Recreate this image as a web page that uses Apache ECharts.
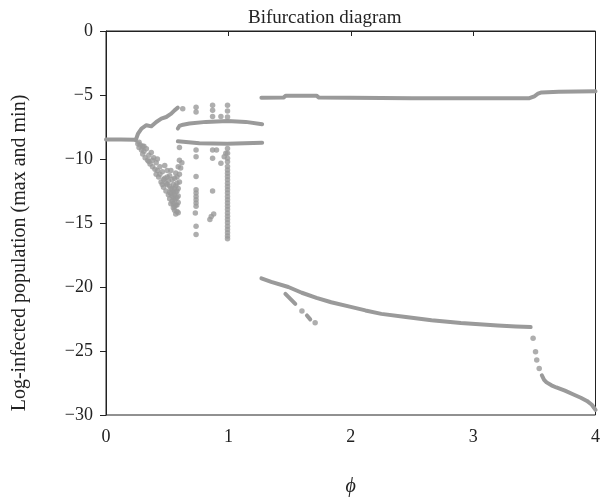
<!DOCTYPE html>
<html>
<head>
<meta charset="utf-8">
<script src="https://cdn.jsdelivr.net/npm/echarts@6/dist/echarts.min.js"></script>
<style>
html, body { margin: 0; padding: 0; background: #fff; }
#chart { width: 603px; height: 502px; }
</style>
</head>
<body>
<div id="chart"></div>
<script>
// axis ticks
const xTicks = [0, 1, 2, 3, 4];
const yTickLabels = ['−30', '−25', '−20', '−15', '−10', '−5', '0'];

// continuous branches, [phi, log-infected]
const stableBranch = [[0, -8.48], [0.12, -8.48], [0.24, -8.5]];
const earlyUpper = [[0.243, -8.53], [0.262, -8.01], [0.29, -7.62], [0.33, -7.36], [0.371, -7.45],
	[0.411, -7.11], [0.452, -6.85], [0.492, -6.72], [0.533, -6.46], [0.56, -6.2], [0.587, -5.99]];
const midUpper = [[0.587, -7.62], [0.6, -7.42], [0.63, -7.32], [0.682, -7.23], [0.817, -7.1], [0.993, -7.03],
	[1.142, -7.1], [1.276, -7.29]];
const midLower = [[0.587, -8.62], [0.763, -8.77], [0.99, -8.8], [1.276, -8.73]];
const maxBranch = [[1.27, -5.22], [1.45, -5.2], [1.47, -5.05], [1.72, -5.05], [1.74, -5.2],
	[2.5, -5.25], [3.46, -5.25], [3.5, -5.1], [3.53, -4.9], [3.56, -4.8], [3.7, -4.75], [4, -4.7]];
const minBranch = [[1.27, -19.33], [1.35, -19.6], [1.49, -20.0], [1.6, -20.45], [1.72, -20.85],
	[1.84, -21.19], [2.0, -21.55], [2.12, -21.83], [2.25, -22.1], [2.45, -22.35], [2.66, -22.6],
	[2.9, -22.82], [3.2, -23.0], [3.35, -23.08], [3.47, -23.13]];
const minTail = [[3.562, -26.9], [3.58, -27.25], [3.6, -27.45], [3.64, -27.68], [3.68, -27.85],
	[3.75, -28.1], [3.82, -28.4], [3.88, -28.65], [3.93, -28.9], [3.97, -29.2], [4.0, -29.6]];
const sideDash1 = [[1.466, -20.54], [1.547, -21.32]];
const sideDash2 = [[1.642, -22.22], [1.669, -22.53]];

// scattered extrema
const chaosDots = [
	[0.26, -8.8], [0.27, -9.1], [0.28, -8.9], [0.29, -9.3], [0.30, -9.0], [0.30, -9.6], [0.31, -9.4],
	[0.32, -9.9], [0.33, -9.2], [0.34, -10.1], [0.35, -9.7], [0.36, -10.4], [0.37, -9.5], [0.38, -10.6],
	[0.39, -9.9], [0.40, -10.8], [0.41, -10.3], [0.41, -11.2], [0.42, -10.0], [0.43, -11.4], [0.44, -10.6],
	[0.45, -11.8], [0.46, -11.0], [0.47, -12.2], [0.48, -10.5], [0.48, -11.5], [0.49, -12.5], [0.50, -10.9],
	[0.50, -12.0], [0.51, -12.8], [0.52, -11.3], [0.52, -13.1], [0.53, -12.3], [0.53, -13.5], [0.54, -11.6],
	[0.54, -12.9], [0.55, -13.8], [0.55, -12.0], [0.56, -11.5], [0.56, -13.2], [0.56, -14.0], [0.57, -12.6],
	[0.57, -13.6], [0.57, -14.3], [0.58, -11.9], [0.58, -13.0], [0.58, -14.1], [0.59, -12.3], [0.59, -13.4],
	[0.60, -11.2], [0.61, -10.7], [0.62, -10.3], [0.60, -10.1], [0.59, -10.6], [0.51, -11.7], [0.53, -10.9],
	[0.55, -12.6], [0.57, -11.1], [0.6, -9.1],
	[0.52, -12.1], [0.53, -12.7], [0.54, -13.3], [0.55, -13.0], [0.55, -13.5], [0.56, -12.3], [0.56, -12.8],
	[0.57, -12.1], [0.57, -13.1], [0.58, -12.5], [0.58, -13.6], [0.59, -12.9], [0.59, -14.2], [0.56, -13.7],
	[0.54, -12.4], [0.52, -12.6], [0.50, -11.4], [0.49, -11.9], [0.47, -11.6], [0.46, -12.0], [0.44, -11.2],
	[0.42, -10.9], [0.38, -10.1], [0.35, -10.2], [0.31, -9.0], [0.27, -8.7], [0.58, -11.4], [0.6, -11.8]
];
const topDots = [[0.627, -6.07], [0.736, -5.95], [0.736, -6.33], [0.871, -5.81], [0.871, -6.2],
	[0.993, -5.81], [0.993, -6.25], [0.993, -6.72], [0.939, -6.67], [0.871, -6.67]];
const columnDots = [
	[0.736, -9.3], [0.736, -9.82], [0.736, -11.37], [0.736, -12.4], [0.736, -12.66], [0.736, -12.92],
	[0.736, -13.18], [0.736, -13.44], [0.736, -13.7], [0.73, -14.21], [0.736, -15.25], [0.736, -15.89],
	[0.871, -9.3], [0.871, -9.95], [0.871, -12.5], [0.88, -14.3], [0.849, -14.73], [0.86, -14.5],
	[0.903, -9.3], [0.939, -10.34], [0.966, -9.82], [0.979, -9.56],
	[0.993, -9.17], [0.993, -9.56], [0.993, -9.95], [0.993, -10.21], [0.993, -10.59], [0.993, -10.85],
	[0.993, -11.11], [0.993, -11.37], [0.993, -11.63], [0.993, -11.89], [0.993, -12.14], [0.993, -12.4],
	[0.993, -12.66], [0.993, -12.92], [0.993, -13.18], [0.993, -13.44], [0.993, -13.7], [0.993, -13.95],
	[0.993, -14.21], [0.993, -14.47], [0.993, -14.73], [0.993, -14.99], [0.993, -15.25], [0.993, -15.5],
	[0.993, -15.76], [0.993, -16.02], [0.993, -16.23]
];
const sideDots = [[1.601, -21.88], [1.709, -22.79]];
const dropDots = [[3.49, -24.0], [3.51, -25.06], [3.52, -25.7], [3.54, -26.36]];

const grey = '#9a9a9a';
const serif = '"Liberation Serif", "DejaVu Serif", serif';

const branch = (data) => ({
	type: 'line',
	data,
	symbol: 'none',
	silent: true,
	lineStyle: { color: grey, width: 4, cap: 'round', join: 'round' },
});
const dots = (data) => ({
	type: 'scatter',
	data,
	symbolSize: 5.5,
	itemStyle: { color: grey },
});

const chart = echarts.init(document.getElementById('chart'));

chart.setOption({
	animation: false,
	title: {
		text: 'Bifurcation diagram',
		left: 243,
		top: 4,
		textStyle: { fontFamily: serif, fontSize: 19, fontWeight: 'normal', color: '#222' },
	},
	grid: {
		left: 106, right: 4, top: 31, bottom: 84,
		show: true, borderColor: '#222', borderWidth: 1,
	},
	xAxis: {
		type: 'value',
		min: xTicks[0], max: xTicks[xTicks.length - 1], interval: 1,
		name: 'ϕ',
		nameLocation: 'middle',
		nameGap: 62,
		nameTextStyle: { fontFamily: serif, fontSize: 20, fontStyle: 'italic', color: '#222' },
		axisLine: { lineStyle: { color: '#222', width: 1 } },
		axisTick: { inside: false, length: 5, lineStyle: { color: '#222' } },
		axisLabel: { margin: 13, fontFamily: serif, fontSize: 18, color: '#222' },
		splitLine: { show: false },
	},
	yAxis: {
		type: 'value',
		min: -30, max: 0, interval: 5,
		axisLine: { show: true, lineStyle: { color: '#222', width: 1 } },
		axisTick: { show: true, inside: false, length: 6, lineStyle: { color: '#222' } },
		axisLabel: {
			margin: 13, fontFamily: serif, fontSize: 18, color: '#222',
			formatter: (v) => yTickLabels[(v + 30) / 5],
		},
		splitLine: { show: false },
	},
	graphic: [{
		type: 'text',
		x: 20, y: 253,
		rotation: Math.PI / 2,
		style: {
			text: 'Log-infected population (max and min)',
			font: '20px ' + serif,
			fill: '#222',
			align: 'center',
			verticalAlign: 'middle',
		},
	}],
	series: [
		branch(stableBranch), branch(earlyUpper), branch(midUpper), branch(midLower),
		branch(maxBranch), branch(minBranch), branch(minTail), branch(sideDash1), branch(sideDash2),
		dots(chaosDots), dots(topDots), dots(columnDots), dots(sideDots), dots(dropDots),
	],
});
</script>
</body>
</html>
